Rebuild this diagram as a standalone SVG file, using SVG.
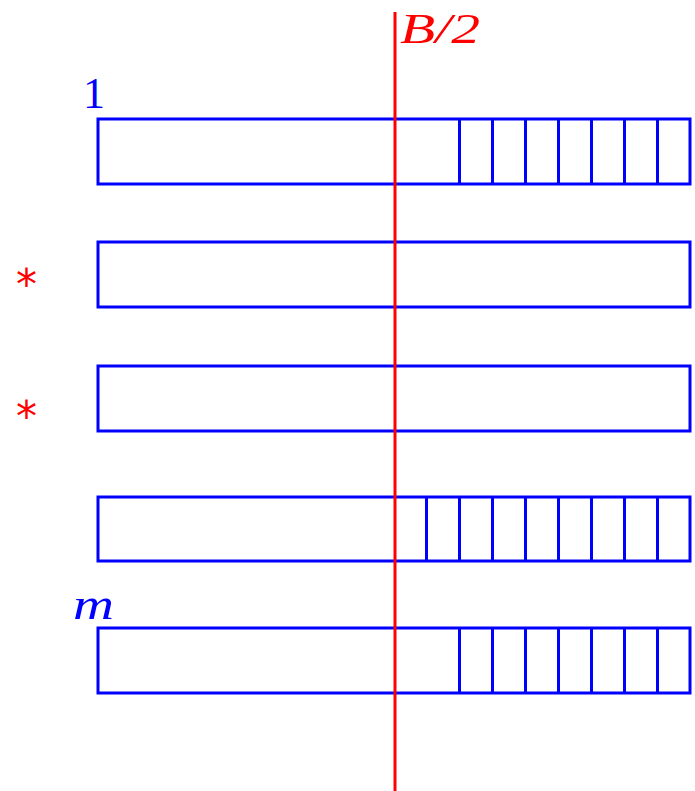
<svg xmlns="http://www.w3.org/2000/svg" width="695" height="791" viewBox="0 0 695 791">
<style>
.box{fill:none;stroke:#0000ff;stroke-width:3}
.cell{stroke:#0000ff;stroke-width:3}
.bl{fill:#0000ff;font-family:"Liberation Serif",serif;font-size:44px}
.rd{fill:#ff0000;font-family:"Liberation Serif",serif;font-size:43px}
.ast{fill:#ff0000;font-family:"DejaVu Sans",sans-serif;font-size:42px}
</style>
<rect width="695" height="791" fill="#fff"/>
<g id="row1">
<rect class="box" x="98" y="119" width="592" height="65"/>
<path class="cell" d="M459.5 119V184M492.5 119V184M525.5 119V184M558.5 119V184M591.5 119V184M624.5 119V184M657.5 119V184"/>
<text class="bl" x="83" y="108">1</text>
</g>
<g id="row2">
<rect class="box" x="98" y="242" width="592" height="65"/>
<text class="ast" x="16" y="299">*</text>
</g>
<g id="row3">
<rect class="box" x="98" y="366" width="592" height="65"/>
<text class="ast" x="16" y="431">*</text>
</g>
<g id="row4">
<rect class="box" x="98" y="497" width="592" height="64"/>
<path class="cell" d="M426.5 497V561M459.5 497V561M492.5 497V561M525.5 497V561M558.5 497V561M591.5 497V561M624.5 497V561M657.5 497V561"/>
</g>
<g id="row5">
<rect class="box" x="98" y="628" width="592" height="65"/>
<path class="cell" d="M459.5 628V693M492.5 628V693M525.5 628V693M558.5 628V693M591.5 628V693M624.5 628V693M657.5 628V693"/>
<text class="bl" x="73" y="619" font-style="italic" textLength="41" lengthAdjust="spacingAndGlyphs">m</text>
</g>
<g id="connectors">
<line x1="395" y1="12" x2="395" y2="791" stroke="#ff0000" stroke-width="3"/>
<text class="rd" x="400" y="43" font-style="italic" textLength="80" lengthAdjust="spacingAndGlyphs">B/2</text>
</g>
</svg>
